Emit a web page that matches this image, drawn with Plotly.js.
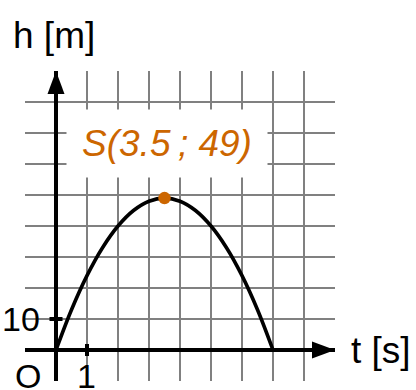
<!DOCTYPE html>
<html>
<head>
<meta charset="utf-8">
<script src="https://cdn.plot.ly/plotly-3.0.1.min.js"></script>
<style>html,body{margin:0;padding:0;background:#fff;}#chart{width:416px;height:390px;}</style>
</head>
<body>
<div id="chart"></div>
<script>
// Data
const tValues = [0, 0.5, 1, 1.5, 2, 2.5, 3, 3.5, 4, 4.5, 5, 5.5, 6, 6.5, 7];
const hValues = [0, 13, 24, 33, 40, 45, 48, 49, 48, 45, 40, 33, 24, 13, 0];
const vertexT = [3.5];
const vertexH = [49];
const vertexLabel = "S(3.5\u2009; 49)";
const xGrid = [1, 2, 3, 4, 5, 6, 7, 8];
const yGrid = [10, 20, 30, 40, 50, 60, 70, 80];
const xTickVals = [1];
const xTickText = ["1"];
const yTickVals = [10];
const yTickText = ["10"];
const xRange = [-1, 9];
const yRange = [-10, 90];
const xTitle = "t [s]";
const yTitle = "h [m]";
const originLabel = "O";

const FONT = "Liberation Sans, Arial, sans-serif";
const ORANGE = "#cc6600";

const traces = [
  {x: tValues, y: hValues, mode: "lines", line: {color: "#000", width: 3.6, shape: "spline"}, hoverinfo: "none"},
  {x: vertexT, y: vertexH, mode: "markers", marker: {color: ORANGE, size: 12.5}, hoverinfo: "none"}
];

const shapes = [];
// axes lines
shapes.push({type: "line", xref: "x", yref: "y", x0: xRange[0], x1: xRange[1], y0: 0, y1: 0, line: {color: "#000", width: 4}});
shapes.push({type: "line", xref: "x", yref: "y", x0: 0, x1: 0, y0: yRange[0], y1: yRange[1], line: {color: "#000", width: 4}});
// arrow heads
shapes.push({type: "path", xref: "x", yref: "y", xsizemode: "pixel", ysizemode: "pixel", xanchor: xRange[1], yanchor: 0,
  path: "M0,0 L-23,8.5 L-23,-8.5 Z", fillcolor: "#000", line: {width: 0}});
shapes.push({type: "path", xref: "x", yref: "y", xsizemode: "pixel", ysizemode: "pixel", xanchor: 0, yanchor: yRange[1],
  path: "M0,0 L-8.5,-23 L8.5,-23 Z", fillcolor: "#000", line: {width: 0}});
// tick marks
xTickVals.forEach(v => shapes.push({type: "line", xref: "x", yref: "y", ysizemode: "pixel", yanchor: 0, x0: v, x1: v, y0: -6, y1: 6, line: {color: "#000", width: 4}}));
yTickVals.forEach(v => shapes.push({type: "line", xref: "x", yref: "y", xsizemode: "pixel", xanchor: 0, y0: v, y1: v, x0: -6.5, x1: 6.5, line: {color: "#000", width: 4}}));

// helper: data -> paper fraction
const px = v => (v - xRange[0]) / (xRange[1] - xRange[0]);
const py = v => (v - yRange[0]) / (yRange[1] - yRange[0]);

const annotations = [];
annotations.push({xref: "paper", yref: "paper", x: px(0), y: py(yRange[1]), text: yTitle, showarrow: false, xanchor: "center", yanchor: "middle", xshift: -2, yshift: 36, font: {family: FONT, size: 37, color: "#000"}});
annotations.push({xref: "paper", yref: "paper", x: px(xRange[1]), y: py(0), text: xTitle, showarrow: false, xanchor: "left", yanchor: "middle", xshift: 14, font: {family: FONT, size: 37, color: "#000"}});
xTickVals.forEach((v, i) => annotations.push({xref: "paper", yref: "paper", x: px(v), y: py(0), text: xTickText[i], showarrow: false, xanchor: "center", yanchor: "middle", yshift: -26, xshift: -1, font: {family: FONT, size: 34, color: "#000"}}));
yTickVals.forEach((v, i) => annotations.push({xref: "paper", yref: "paper", x: px(0), y: py(v), text: yTickText[i], showarrow: false, xanchor: "center", yanchor: "middle", xshift: -35, font: {family: FONT, size: 34, color: "#000"}}));
annotations.push({xref: "paper", yref: "paper", x: px(0), y: py(0), text: originLabel, showarrow: false, xanchor: "center", yanchor: "middle", xshift: -28, yshift: -26, font: {family: FONT, size: 34, color: "#000"}});
annotations.push({xref: "x", yref: "y", x: vertexT[0], y: vertexH[0], text: "<i>" + vertexLabel + "</i>", showarrow: false, xanchor: "center", yanchor: "middle", xshift: 2, yshift: 55,
  bgcolor: "#fff", borderpad: 10, width: 180, height: 47, font: {family: FONT, size: 37, color: ORANGE}});

const layout = {
  width: 416, height: 390,
  margin: {l: 25, r: 81, t: 71, b: 9, pad: 0},
  paper_bgcolor: "#fff", plot_bgcolor: "#fff",
  showlegend: false,
  xaxis: {range: xRange, tickvals: xGrid, showticklabels: false, ticks: "", showgrid: true, gridcolor: "#808080", gridwidth: 1.5, zeroline: false, showline: false, fixedrange: true},
  yaxis: {range: yRange, tickvals: yGrid, showticklabels: false, ticks: "", showgrid: true, gridcolor: "#808080", gridwidth: 1.5, zeroline: false, showline: false, fixedrange: true},
  shapes: shapes,
  annotations: annotations
};

Plotly.newPlot("chart", traces, layout, {displayModeBar: false, staticPlot: true});
</script>
</body>
</html>
